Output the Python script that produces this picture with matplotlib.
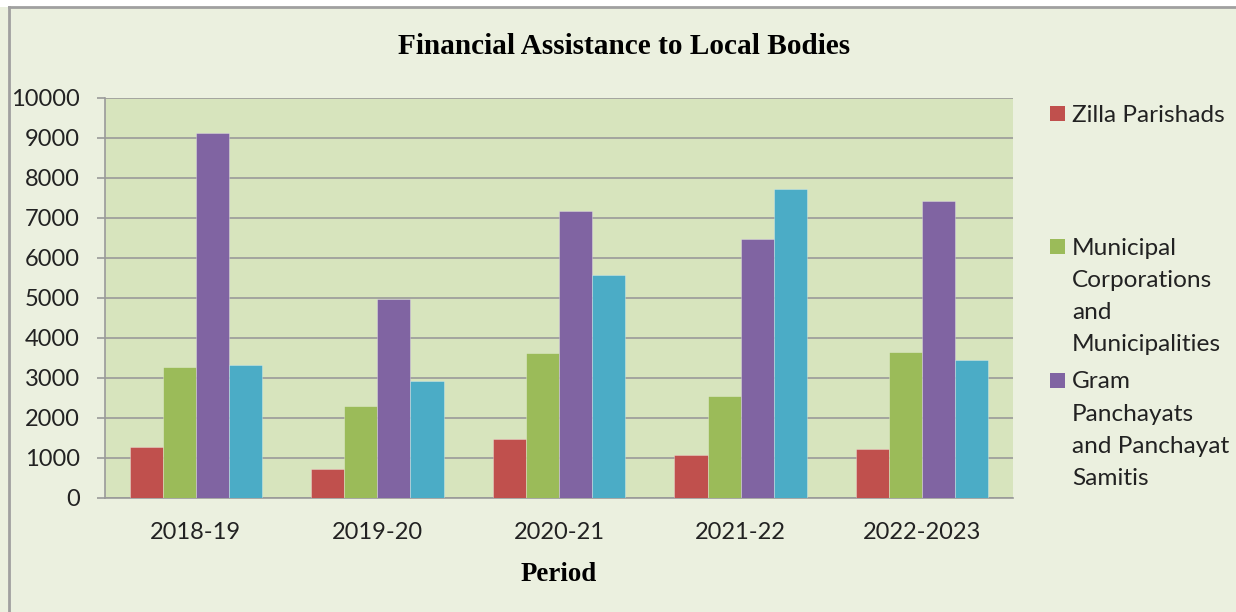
import numpy as np
import matplotlib.pyplot as plt
from matplotlib.patches import Rectangle

periods = ["2018-19", "2019-20", "2020-21", "2021-22", "2022-2023"]

zilla = [1280, 735, 1470, 1085, 1235]
municipal = [3280, 2295, 3635, 2560, 3660]
gram = [9130, 4975, 7185, 6485, 7425]
other = [3335, 2920, 5585, 7735, 3450]

series = [
    (zilla, "Zilla Parishads", "#C0504D"),
    (municipal, "Municipal\nCorporations\nand\nMunicipalities", "#9BBB59"),
    (gram, "Gram\nPanchayats\nand Panchayat\nSamitis", "#8064A2"),
    (other, None, "#4BACC6"),
]

W, H = 1236, 612
fig = plt.figure(figsize=(W / 100, H / 100), dpi=100, facecolor="white")

# outer chart frame
fig.patches.append(Rectangle((0, 0), 1, 1 - 7 / H, transform=fig.transFigure,
                             facecolor="#EBF0DF", edgecolor="none", zorder=-3))
fig.lines.append(plt.Line2D([9 / W, 9 / W], [0, 1 - 7 / H], transform=fig.transFigure,
                            color="#A0A0A0", lw=2))
fig.lines.append(plt.Line2D([9 / W, 1], [1 - 7 / H, 1 - 7 / H], transform=fig.transFigure,
                            color="#A0A0A0", lw=2))

ax = fig.add_axes([105 / W, 1 - 498 / H, 908 / W, 400 / H])
ax.set_facecolor("#D7E4BD")

x = np.arange(len(periods))
bw = 0.182
for i, (vals, label, color) in enumerate(series):
    ax.bar(x + (i - 1.5) * bw, vals, bw, color=color, edgecolor=(1, 1, 1, 0.35),
           linewidth=0.6, zorder=3)

ax.set_xlim(-0.5, len(periods) - 0.5)
ax.set_ylim(0, 10000)
ax.set_yticks(np.arange(0, 10001, 1000))
ax.yaxis.grid(True, color="#9A9A9A", lw=1.2, zorder=0)
ax.set_axisbelow(True)
for s in ["top", "right"]:
    ax.spines[s].set_visible(False)
for s in ["left", "bottom"]:
    ax.spines[s].set_color("#9A9A9A")
    ax.spines[s].set_linewidth(1.2)

fs = 17
ax.set_xticks(x)
ax.set_xticklabels(periods, family="Lato", size=fs, color="#222222")
ax.tick_params(axis="x", length=0, pad=17)
ax.tick_params(axis="y", length=6, width=1.2, color="#9A9A9A", pad=12, labelsize=fs,
               labelcolor="#222222")
for t in ax.get_yticklabels():
    t.set_family("Lato")

ax.set_xlabel("Period", family="Liberation Serif", weight="bold", size=19.4, labelpad=14)
fig.text(624 / W, 1 - 47 / H, "Financial Assistance to Local Bodies",
         family="Liberation Serif", weight="bold", size=21.1, ha="center", va="center")

# legend (only the named series are listed)
legend_mids = [113.5, 246.5, 380]
for (vals, label, color), ymid in zip(series[:3], legend_mids):
    fig.patches.append(Rectangle((1050 / W, 1 - (ymid + 7.5) / H), 15 / W, 15 / H,
                                 transform=fig.transFigure, facecolor=color,
                                 edgecolor="none"))
    fig.text(1072 / W, 1 - (ymid - 8.5) / H, label, family="Lato", size=17.6,
             color="#222222", ha="left", va="top", linespacing=1.65)

fig.savefig("out.png", dpi=100, facecolor=fig.get_facecolor())
